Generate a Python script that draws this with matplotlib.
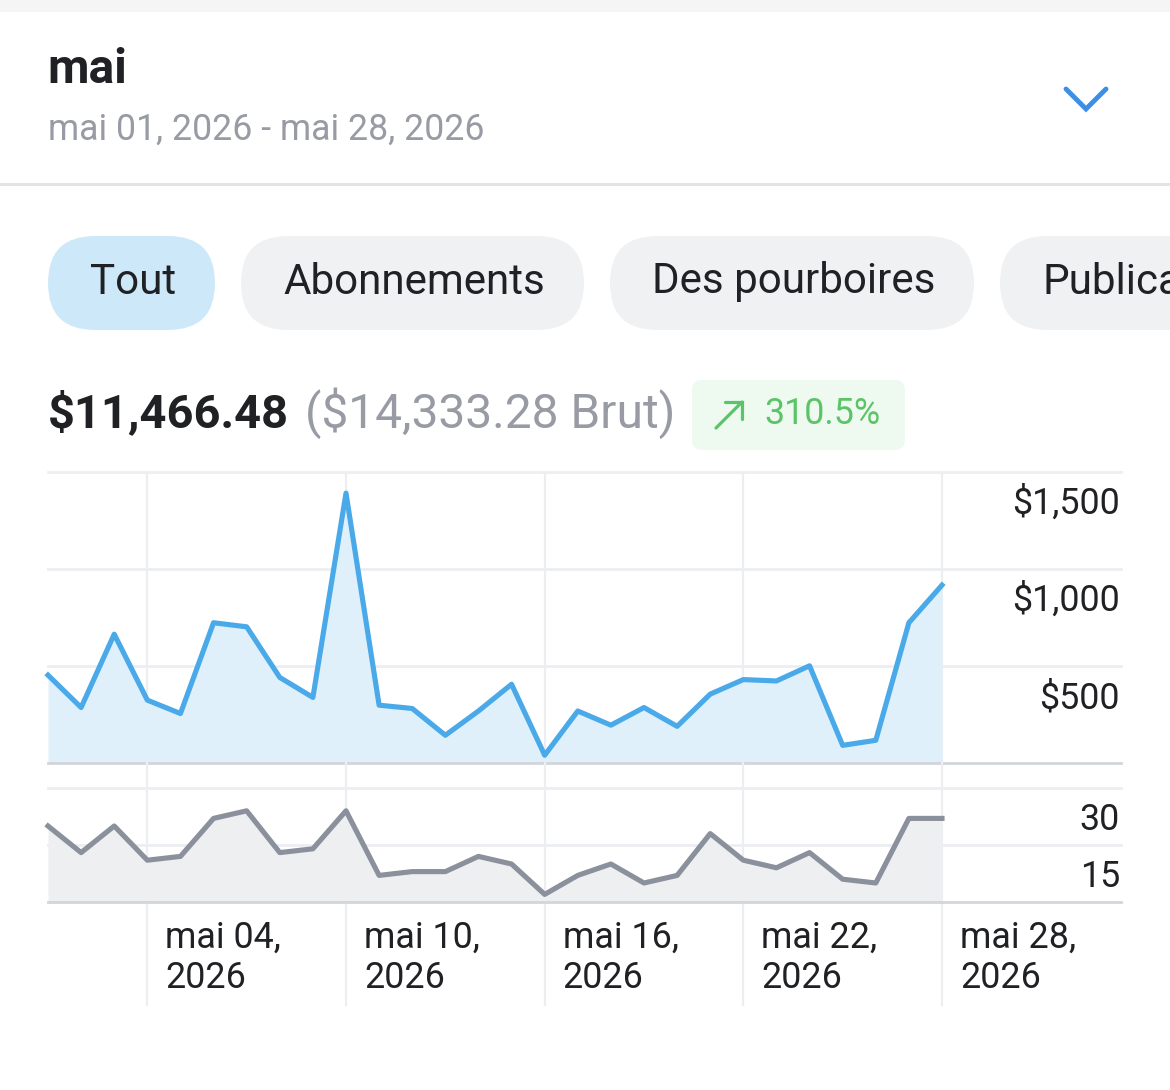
import numpy as np
import matplotlib
matplotlib.use("Agg")
import matplotlib.pyplot as plt
from matplotlib.patches import FancyBboxPatch, Rectangle

plt.rcParams['font.family'] = ['Roboto', 'DejaVu Sans']

# ---- data ----
days = list(range(1, 29))
revenue = [453, 286, 664, 324, 255, 723, 702, 441, 338, 1391,
           298, 281, 143, 268, 406, 40, 268, 195, 286, 189,
           355, 430, 423, 501, 91, 117, 723, 917]
counts = [20, 13, 20, 11, 12, 22, 24, 13, 14, 24,
          7, 8, 8, 12, 10, 2, 7, 10, 5, 7,
          18, 11, 9, 13, 6, 5, 22, 22]
tick_days = [4, 10, 16, 22, 28]
tick_labels = ['mai 04,\n2026', 'mai 10,\n2026', 'mai 16,\n2026',
               'mai 22,\n2026', 'mai 28,\n2026']
rev_ticks = [500, 1000, 1500]
rev_labels = ['$500', '$1,000', '$1,500']
cnt_ticks = [15, 30]
cnt_labels = ['15', '30']
tabs = ['Tout', 'Abonnements', 'Des pourboires', 'Publications']

W, H = 1170, 1090
fig = plt.figure(figsize=(W / 100, H / 100), dpi=100)
fig.patch.set_facecolor('white')

# overlay axes in pixel coordinates for the header part
bg = fig.add_axes([0, 0, 1, 1])
bg.set_xlim(0, W)
bg.set_ylim(H, 0)
bg.axis('off')

dark = '#202124'
grey_txt = '#989ba4'
green = '#5cc468'

bg.add_patch(Rectangle((0, 0), W, 12, color='#f5f5f6', lw=0))
bg.text(47, 70, 'mai', fontsize=34.5, fontweight='bold', color=dark, va='center')
bg.text(48, 130, 'mai 01, 2026 - mai 28, 2026', fontsize=25.7, color=grey_txt, va='center')
bg.plot([1066, 1086, 1106], [89, 109, 89], color='#3d8fe4', lw=3.5,
        solid_capstyle='round', solid_joinstyle='miter')
bg.add_patch(Rectangle((0, 183), W, 3, color='#e3e4e6', lw=0))

# filter pills
pills = [(48, 215, '#cde9f9'), (241, 584, '#f0f1f3'), (610, 974, '#f0f1f3'), (1000, 1260, '#f0f1f3')]
for (x0, x1, c), lab in zip(pills, tabs):
    bg.add_patch(FancyBboxPatch((x0 + 47, 283), x1 - x0 - 94, 0,
                                boxstyle='round,pad=47', fc=c, ec='none',
                                mutation_aspect=1, clip_on=True))
    bg.text(x0 + 42, 282, lab, fontsize=30.3, color=dark, va='center', clip_on=True)

# totals
bg.text(48, 413, '$11,466.48', fontsize=33.8, fontweight='bold', color=dark, va='center')
bg.text(305, 413, '($14,333.28 Brut)', fontsize=34.5, color=grey_txt, va='center')
bg.add_patch(FancyBboxPatch((702, 390), 193, 50, boxstyle='round,pad=10',
                            fc='#eefaf0', ec='none', mutation_aspect=1))
bg.plot([716, 742], [428, 402], color=green, lw=2.3, solid_capstyle='round')
bg.plot([725, 742, 742], [402, 402, 419], color=green, lw=2.3,
        solid_capstyle='round', solid_joinstyle='miter')
bg.text(764, 414, '310.5%', fontsize=25.8, color=green, va='center')

# ---- charts ----
L, R = 48, 1121
def axpos(top, bottom):
    return [L / W, 1 - bottom / H, (R - L) / W, (bottom - top) / H]

x_end = 1 + 27 * (R - L) / (942 - L)
grid_c = '#eceef1'
base_c = '#d2d5da'

ax1 = fig.add_axes(axpos(472, 763))
ax2 = fig.add_axes(axpos(788, 902))
for ax in (ax1, ax2):
    ax.patch.set_alpha(0)
    ax.set_xlim(1, x_end)
    for s in ax.spines.values():
        s.set_visible(False)
    ax.set_xticks([])
    ax.set_yticks([])

ax1.set_ylim(0, 1500)
ax2.set_ylim(0, 30)

for d in tick_days:
    ax1.axvline(d, color=grid_c, lw=1.6, zorder=0)
    ax2.axvline(d, ymin=-0.9, ymax=1.22, color=grid_c, lw=1.6, zorder=0, clip_on=False)

for v, lab in zip(rev_ticks, rev_labels):
    ax1.axhline(v, color=grid_c, lw=2, zorder=0, clip_on=False)
    ax1.annotate(lab, xy=(1, v), xycoords=('axes fraction', 'data'), xytext=(-1, -32),
                 textcoords='offset pixels', ha='right', va='center', fontsize=25.8, color=dark)
ax1.axhline(0, color=base_c, lw=2, zorder=3, clip_on=False)

for v, lab in zip(cnt_ticks, cnt_labels):
    ax2.axhline(v, color=grid_c, lw=2, zorder=0, clip_on=False)
    ax2.annotate(lab, xy=(1, v), xycoords=('axes fraction', 'data'), xytext=(-1, -32),
                 textcoords='offset pixels', ha='right', va='center', fontsize=25.8, color=dark)
ax2.axhline(0, color=base_c, lw=2, zorder=3, clip_on=False)

ax1.fill_between(days, revenue, 0, color='#dff0fa', lw=0, zorder=1)
ax1.plot(days, revenue, color='#4aa9e9', lw=3.7, zorder=2, clip_on=False)
ax2.fill_between(days, counts, 0, color='#eeeff1', lw=0, zorder=1)
ax2.plot(days, counts, color='#8a909c', lw=3.7, zorder=2, clip_on=False)

for d, lab in zip(tick_days, tick_labels):
    ax2.annotate(lab, xy=(d, 0), xycoords='data', xytext=(18, -18),
                 textcoords='offset pixels', ha='left', va='top', fontsize=25.8,
                 color=dark, linespacing=1.15)

fig.savefig('out.png', dpi=100)
